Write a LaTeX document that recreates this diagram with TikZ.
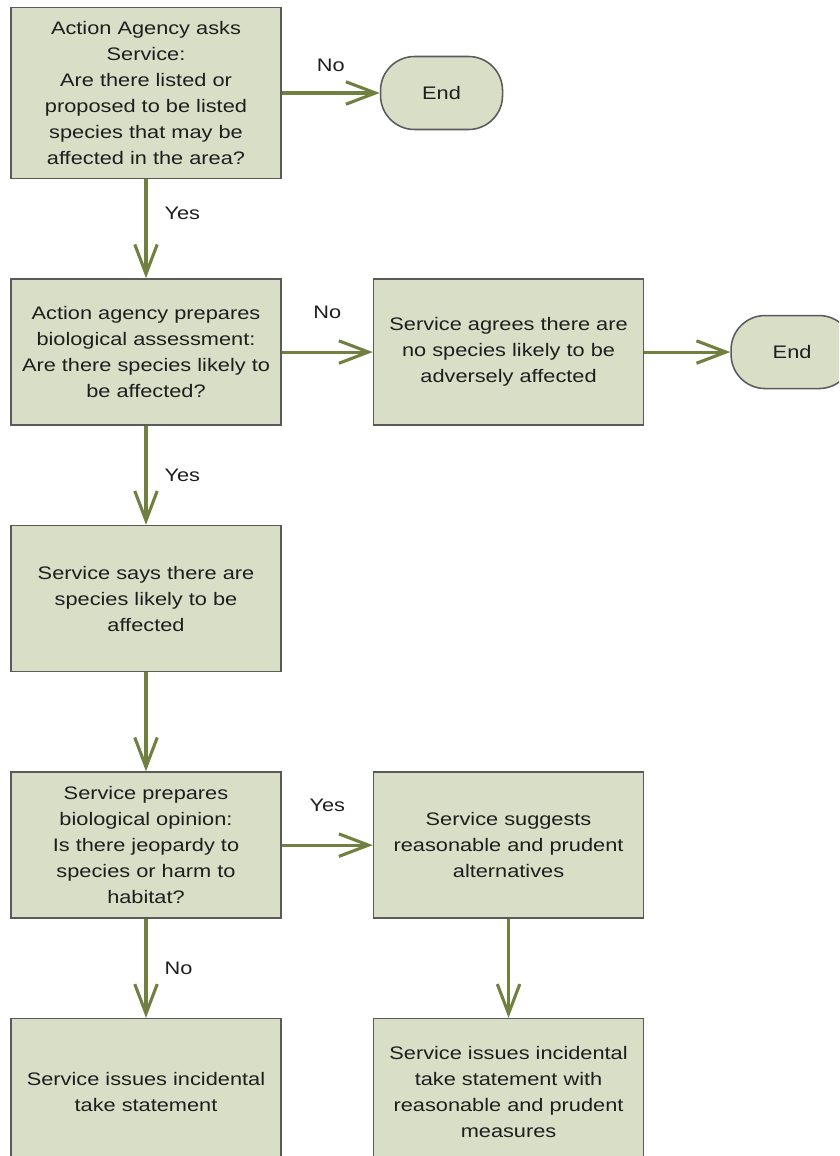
\documentclass[tikz,border=0pt]{standalone}
\usepackage{fontspec}
\setmainfont{Liberation Sans}[FakeStretch=1.2]
\usetikzlibrary{positioning}
\usetikzlibrary{arrows.meta}
\definecolor{boxfill}{RGB}{217,222,199}
\definecolor{boxline}{RGB}{90,90,90}
\definecolor{flowgreen}{RGB}{112,128,64}
\definecolor{txtgray}{RGB}{30,30,30}
\tikzset{
    every picture/.style={>={Straight Barb[length=21pt,width=16pt]},node distance=2.475cm and 2.275cm},
    process/.style={draw=boxline,fill=boxfill,line width=1.1pt,minimum width=6.75cm,minimum height=3.65cm,
        inner sep=0pt,align=center,text=txtgray,font=\fontsize{12.9}{18.5}\selectfont},
    stop/.style={process,minimum width=3.05cm,minimum height=1.825cm,rounded corners=0.85cm},
    flowline/.style={->,draw=flowgreen,line width=2.2pt},
    lbl/.style={inner sep=0pt,text=txtgray,font=\fontsize{12.9}{15}\selectfont},
}
\begin{document}
\begin{tikzpicture}
\clip (0,0) rectangle (20.975,-28.9);

\node[process,minimum height=4.275cm] (ask) at (3.65,-2.325) {Action Agency asks\\Service:\\Are there listed or\\proposed to be listed\\species that may be\\affected in the area?};
\node[stop,right=2.45cm of ask] (end1) {End};
\node[process,below=of ask] (assess) {Action agency prepares\\biological assessment:\\Are there species likely to\\be affected?};
\node[process,right=of assess] (agree) {Service agrees there are\\no species likely to be\\adversely affected};
\node[stop,right=2.15cm of agree] (end2) {End};
\node[process,below=of assess] (says) {Service says there are\\species likely to be\\affected};
\node[process,below=of says] (opinion) {Service prepares\\biological opinion:\\Is there jeopardy to\\species or harm to\\habitat?};
\node[process,right=of opinion] (alter) {Service suggests\\reasonable and prudent\\alternatives};
\node[process,below=of opinion] (take) {Service issues incidental\\take statement};
\node[process,below=of alter] (measures) {Service issues incidental\\take statement with\\reasonable and prudent\\measures};

\path
(ask) edge[flowline] node[lbl,above=0.49cm] {No} (end1)
(ask) edge[flowline] node[lbl,right=0.425cm,yshift=0.375cm] {Yes} (assess)
(assess) edge[flowline] node[lbl,above=0.79cm] {No} (agree)
(agree) edge[flowline] (end2)
(assess) edge[flowline] node[lbl,right=0.425cm] {Yes} (says)
(says) edge[flowline] (opinion)
(opinion) edge[flowline] node[lbl,above=0.79cm] {Yes} (alter)
(opinion) edge[flowline] node[lbl,right=0.425cm] {No} (take)
(alter) edge[flowline] (measures)
;

\end{tikzpicture}
\end{document}
